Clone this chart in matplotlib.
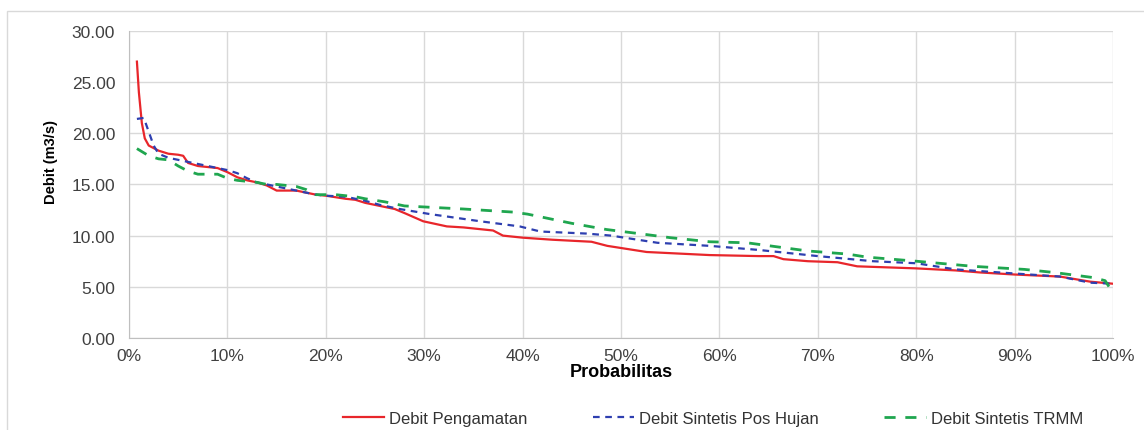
import matplotlib
matplotlib.use("Agg")
import matplotlib.pyplot as plt
from matplotlib import font_manager
from matplotlib.patches import Rectangle

plt.rcParams['font.family'] = ['Liberation Sans', 'DejaVu Sans']

# probabilitas (%) and debit (m3/s)
p_obs = [0.8, 1.0, 1.3, 1.6, 2.0, 3.0, 4.0, 5.0, 5.5, 6.0, 7.0, 8.0, 9.0, 10.0, 11.0, 12.0,
         13.0, 14.0, 15.0, 16.0, 17.0, 18.0, 19.0, 20.0, 22.0, 23.0, 24.0, 25.5, 27.0, 28.0,
         29.9, 32.3, 34.0, 37.0, 38.0, 40.0, 43.0, 47.0, 48.6, 52.6, 59.0, 64.0, 65.5, 66.5,
         69.0, 72.0, 74.0, 80.0, 84.0, 86.5, 90.0, 94.6, 97.7, 100.0]
q_obs = [27.0, 24.0, 21.0, 19.5, 18.8, 18.3, 18.0, 17.9, 17.8, 17.1, 16.8, 16.7, 16.6, 16.2,
         15.7, 15.4, 15.2, 14.9, 14.4, 14.4, 14.4, 14.2, 14.0, 13.9, 13.6, 13.5, 13.2, 12.9,
         12.6, 12.2, 11.4, 10.9, 10.8, 10.5, 10.0, 9.8, 9.6, 9.4, 9.0, 8.4, 8.1, 8.0, 8.0,
         7.7, 7.5, 7.4, 7.0, 6.8, 6.6, 6.4, 6.2, 6.0, 5.5, 5.3]

p_pos = [0.8, 1.5, 2.5, 3.0, 4.0, 5.0, 6.0, 7.0, 8.0, 9.0, 10.0, 11.0, 12.0, 13.0, 14.0,
         15.0, 16.0, 17.0, 18.0, 19.0, 20.0, 22.0, 23.0, 24.0, 25.5, 27.5, 30.6, 35.7, 39.7,
         41.8, 46.5, 49.0, 53.7, 59.0, 64.0, 70.0, 75.6, 80.0, 84.0, 90.0, 94.6, 97.7, 100.0]
q_pos = [21.4, 21.5, 18.8, 18.0, 17.6, 17.4, 17.2, 17.0, 16.8, 16.6, 16.4, 16.1, 15.6, 15.2,
         15.0, 14.8, 14.6, 14.4, 14.2, 14.0, 13.9, 13.8, 13.6, 13.4, 13.0, 12.6, 12.1, 11.4,
         10.9, 10.4, 10.2, 10.0, 9.3, 9.0, 8.6, 8.0, 7.5, 7.3, 6.7, 6.3, 6.0, 5.4, 5.3]

p_trmm = [0.8, 2.0, 3.0, 4.0, 5.0, 6.0, 7.0, 8.0, 9.0, 10.0, 11.0, 12.0, 13.0, 14.0, 15.0,
          16.0, 17.0, 18.0, 19.0, 21.0, 22.0, 23.0, 24.0, 26.0, 28.0, 34.0, 39.0, 40.5, 43.0,
          45.0, 48.5, 52.6, 55.0, 59.0, 62.8, 69.0, 73.0, 75.0, 80.0, 85.8, 91.0, 94.0, 98.0,
          99.2, 100.0]
q_trmm = [18.5, 17.8, 17.5, 17.4, 16.8, 16.3, 16.0, 16.0, 16.0, 15.6, 15.4, 15.3, 15.2, 15.0,
          15.0, 14.9, 14.8, 14.5, 14.0, 14.0, 13.9, 13.8, 13.6, 13.3, 12.9, 12.6, 12.3, 12.1,
          11.6, 11.2, 10.6, 10.1, 9.8, 9.4, 9.3, 8.5, 8.2, 7.9, 7.5, 7.0, 6.7, 6.4, 5.9,
          5.6, 4.4]

x_ticks = list(range(0, 101, 10))
y_ticks = [0, 5, 10, 15, 20, 25, 30]

# narrow bold face for the y label, if present
names = {f.name for f in font_manager.fontManager.ttflist}
if 'Liberation Sans Narrow' in names:
    ylab_font, ylab_size = 'Liberation Sans Narrow', 12.5
else:
    ylab_font, ylab_size = 'Liberation Sans', 10.5

fig = plt.figure(figsize=(11.44, 4.31), dpi=100)
ax = fig.add_axes([0.1128, 0.2135, 0.8601, 0.7125])

fig.patches.append(Rectangle((0.006, -0.02), 1.0, 0.993, transform=fig.transFigure,
                             fill=False, edgecolor='#d9d9d9', linewidth=1.0))

ax.plot(p_obs, q_obs, color='#e8262b', linewidth=1.6, label='Debit Pengamatan')
ax.plot(p_pos, q_pos, color='#2e3fb0', linewidth=1.6, linestyle=(0, (3, 2.5)),
        label='Debit Sintetis Pos Hujan')
ax.plot(p_trmm, q_trmm, color='#1fa64f', linewidth=2.0, linestyle=(0, (4, 3.5)),
        label='Debit Sintetis TRMM')

ax.set_xlim(0, 100)
ax.set_ylim(0, 30)
ax.set_xticks(x_ticks)
ax.set_xticklabels([f"{t}%" for t in x_ticks])
ax.set_yticks(y_ticks)
ax.set_yticklabels([f"{t:.2f}" for t in y_ticks])
ax.grid(True, color='#d9d9d9', linewidth=1.0)
ax.set_axisbelow(True)
for s in ['top', 'right']:
    ax.spines[s].set_visible(False)
for s in ['left', 'bottom']:
    ax.spines[s].set_color('#bfbfbf')
ax.tick_params(axis='y', length=0, labelsize=12.5, colors='#404040', pad=10)
ax.tick_params(axis='x', length=0, labelsize=12.5, colors='#404040', pad=7)

ax.set_xlabel('Probabilitas', fontsize=13, fontweight='bold', labelpad=0)
ax.set_ylabel('Debit (m3/s)', fontsize=ylab_size, fontweight='bold',
              family=[ylab_font, 'DejaVu Sans'])
ax.yaxis.set_label_coords(-0.072, 0.575)

leg = fig.legend(loc='center', bbox_to_anchor=(0.623, 0.026), ncol=3, frameon=False,
                 fontsize=12, columnspacing=3.9, handlelength=2.5, handletextpad=0.3)
for t in leg.get_texts():
    t.set_color('#333333')

fig.savefig('out.png', dpi=100)
